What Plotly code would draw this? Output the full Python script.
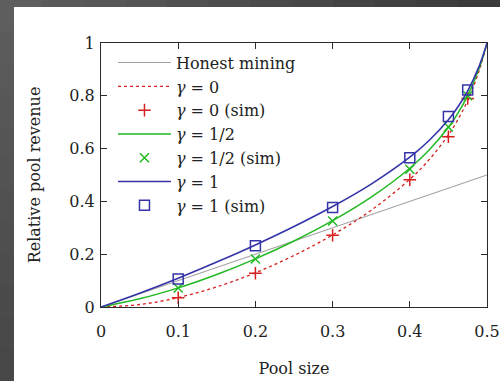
import plotly.graph_objects as go

# ---- data ----
alpha_curve = [0, 0.05, 0.1, 0.15, 0.2, 0.25, 0.3, 0.35, 0.4, 0.425, 0.45, 0.46, 0.475, 0.49, 0.5]
honest = [0, 0.05, 0.1, 0.15, 0.2, 0.25, 0.3, 0.35, 0.4, 0.425, 0.45, 0.46, 0.475, 0.49, 0.5]
rev_g0 = [0, 0.0094, 0.0356, 0.0763, 0.1297, 0.1951, 0.2731, 0.3665, 0.4837, 0.558, 0.6518, 0.698, 0.7826, 0.8963, 1.0]
rev_g05 = [0, 0.0309, 0.0724, 0.1232, 0.1824, 0.25, 0.3269, 0.416, 0.5256, 0.5943, 0.6806, 0.7231, 0.8006, 0.9049, 1.0]
rev_g1 = [0, 0.0524, 0.1092, 0.1701, 0.2352, 0.3049, 0.3806, 0.4656, 0.5674, 0.6306, 0.7094, 0.7482, 0.8187, 0.9135, 1.0]

alpha_sim = [0.1, 0.2, 0.3, 0.4, 0.45, 0.475]
sim_g0 = [0.035, 0.128, 0.272, 0.482, 0.645, 0.79]
sim_g05 = [0.072, 0.182, 0.326, 0.522, 0.682, 0.80]
sim_g1 = [0.106, 0.232, 0.377, 0.565, 0.722, 0.822]

x_ticks = [0, 0.1, 0.2, 0.3, 0.4, 0.5]
x_tick_labels = ["0", "0.1", "0.2", "0.3", "0.4", "0.5"]
y_ticks = [0, 0.2, 0.4, 0.6, 0.8, 1]
y_tick_labels = ["0", "0.2", "0.4", "0.6", "0.8", "1"]

RED = "#d62020"
GREEN = "#22b822"
BLUE = "#3434a8"
GRAY = "#a0a0a0"
FONT = "DejaVu Serif, serif"

fig = go.Figure()
fig.add_trace(go.Scatter(x=alpha_curve, y=honest, mode="lines", name="Honest mining",
                         line=dict(color=GRAY, width=1.1)))
fig.add_trace(go.Scatter(x=alpha_curve, y=rev_g0, mode="lines", name="<i>γ</i> = 0",
                         line=dict(color=RED, width=1.3, dash="dot", shape="spline")))
fig.add_trace(go.Scatter(x=alpha_sim, y=sim_g0, mode="markers", name="<i>γ</i> = 0 (sim)",
                         marker=dict(symbol="cross-thin-open", size=9, color=RED,
                                     line=dict(color=RED, width=1.5))))
fig.add_trace(go.Scatter(x=alpha_curve, y=rev_g05, mode="lines", name="<i>γ</i> = 1/2",
                         line=dict(color=GREEN, width=1.5, shape="spline")))
fig.add_trace(go.Scatter(x=alpha_sim, y=sim_g05, mode="markers", name="<i>γ</i> = 1/2 (sim)",
                         marker=dict(symbol="x-thin-open", size=9, color=GREEN,
                                     line=dict(color=GREEN, width=1.5))))
fig.add_trace(go.Scatter(x=alpha_curve, y=rev_g1, mode="lines", name="<i>γ</i> = 1",
                         line=dict(color=BLUE, width=1.6, shape="spline")))
fig.add_trace(go.Scatter(x=alpha_sim, y=sim_g1, mode="markers", name="<i>γ</i> = 1 (sim)",
                         marker=dict(symbol="square-open", size=10, color=BLUE,
                                     line=dict(color=BLUE, width=1.5))))

# background frame (decoration)
W, H = 500, 381
L, R, T, B = 101, 13, 43, 74
pw, ph = W - L - R, H - T - B


def px2x(px):
    return (px - L) / pw


def py2y(py):
    return (H - B - py) / ph


shapes = []
n = 12
for i in range(n):
    y0 = H * i / n
    y1 = H * (i + 1) / n + 1.5
    c = int(0x5e - (0x5e - 0x47) * i / (n - 1))
    shapes.append(dict(type="rect", xref="paper", yref="paper", layer="below",
                       x0=px2x(0), x1=px2x(14), y0=py2y(y1), y1=py2y(y0),
                       fillcolor="rgb(%d,%d,%d)" % (c, c, c), line=dict(width=0)))
for i in range(n):
    x0 = W * i / n
    x1 = W * (i + 1) / n + 1.5
    c = int(0x5e - (0x5e - 0x3a) * i / (n - 1))
    shapes.append(dict(type="rect", xref="paper", yref="paper", layer="below",
                       x0=px2x(x0), x1=px2x(x1), y0=py2y(7), y1=py2y(0),
                       fillcolor="rgb(%d,%d,%d)" % (c, c, c), line=dict(width=0)))

axis_common = dict(showgrid=False, zeroline=False, showline=True, mirror="allticks",
                   linecolor="#2a2a2a", linewidth=1, ticks="inside", ticklen=6,
                   tickcolor="#2a2a2a", automargin=False,
                   tickfont=dict(family=FONT, size=16, color="#222"))

fig.update_layout(
    width=W, height=H,
    margin=dict(l=L, r=R, t=T, b=B),
    paper_bgcolor="white", plot_bgcolor="white",
    shapes=shapes,
    font=dict(family=FONT, color="#222"),
    xaxis=dict(range=[0, 0.5], tickvals=x_ticks, ticktext=x_tick_labels, ticklabelstandoff=10,
               title=dict(text="Pool size", font=dict(family=FONT, size=16), standoff=22),
               **axis_common),
    yaxis=dict(range=[0, 1], tickvals=y_ticks, ticktext=y_tick_labels, ticklabelstandoff=2,
               title=dict(text="Relative pool revenue", font=dict(family=FONT, size=16), standoff=24),
               **axis_common),
    legend=dict(x=0.031, y=0.99, xanchor="left", yanchor="top", bgcolor="rgba(0,0,0,0)",
                font=dict(family=FONT, size=16, color="#222"), itemwidth=53,
                tracegroupgap=0),
    showlegend=True,
)

fig.write_html("out.html", config={"displayModeBar": False},
               post_script="document.body.style.margin='0';")
